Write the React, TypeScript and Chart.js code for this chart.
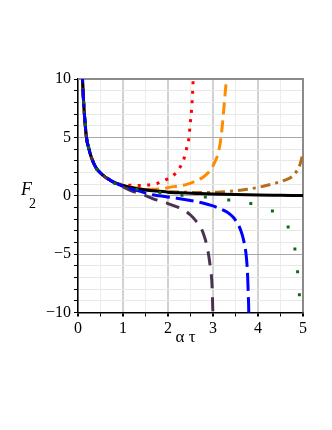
import React, { useEffect, useRef } from "react";
import { Chart, registerables } from "chart.js";

Chart.register(...registerables);

// shared steep branch near the origin (all curves coincide here)
const commonX = [0.09, 0.1, 0.125, 0.15, 0.184, 0.25, 0.3, 0.4, 0.5, 0.6, 0.7, 0.8];
const commonY = [11.2, 10.0, 8.0, 6.6, 5.1, 3.9, 3.25, 2.4, 1.95, 1.62, 1.37, 1.15];

const blackX = [0.9, 1.0, 1.2, 1.4, 1.6, 1.8, 2.0, 2.3, 2.7, 3.0, 3.5, 4.0, 4.5, 5.0];
const blackY = [1.0, 0.88, 0.68, 0.55, 0.45, 0.38, 0.31, 0.25, 0.19, 0.15, 0.1, 0.06, 0.04, 0.02];

const redX = [0.9, 1.0, 1.16, 1.36, 1.58, 1.77, 1.97, 2.15, 2.27, 2.36, 2.41, 2.46, 2.48, 2.5, 2.52, 2.535, 2.547, 2.556, 2.575];
const redY = [1.02, 0.95, 0.9, 0.88, 0.93, 1.07, 1.4, 1.85, 2.46, 3.23, 4.0, 4.8, 5.57, 6.39, 7.2, 8.0, 8.82, 9.64, 11.5];

const orangeX = [0.9, 1.0, 1.2, 1.4, 1.64, 1.9, 2.12, 2.4, 2.64, 2.8, 2.94, 3.03, 3.1, 3.16, 3.2, 3.25, 3.3, 3.33];
const orangeY = [1.0, 0.9, 0.72, 0.6, 0.55, 0.63, 0.78, 0.95, 1.3, 1.65, 2.18, 2.8, 3.46, 4.5, 5.74, 7.88, 10.15, 12];

const brownX = [0.9, 1.0, 1.2, 1.5, 1.8, 2.05, 2.5, 2.94, 3.16, 3.46, 3.76, 4.05, 4.35, 4.57, 4.76, 4.87, 4.94, 5.0];
const brownY = [1.0, 0.88, 0.7, 0.52, 0.4, 0.34, 0.29, 0.28, 0.32, 0.41, 0.56, 0.75, 1.04, 1.3, 1.65, 2.18, 2.75, 3.7];

const blueX = [0.9, 1.0, 1.2, 1.4, 1.61, 1.8, 1.98, 2.2, 2.5, 2.75, 2.98, 3.15, 3.31, 3.45, 3.55, 3.62, 3.68, 3.74, 3.77, 3.785, 3.795, 3.8];
const blueY = [0.97, 0.8, 0.56, 0.35, 0.12, 0.0, -0.1, -0.22, -0.4, -0.6, -0.85, -1.1, -1.4, -1.85, -2.4, -3.0, -3.8, -5.2, -6.9, -8.6, -10, -12];

const purpleX = [0.9, 1.0, 1.16, 1.42, 1.76, 2.0, 2.2, 2.35, 2.5, 2.62, 2.72, 2.8, 2.87, 2.94, 2.98, 2.995, 3.005];
const purpleY = [0.93, 0.75, 0.47, 0.13, -0.38, -0.67, -0.95, -1.2, -1.65, -2.15, -2.67, -3.4, -4.38, -6.1, -7.8, -9.8, -12];

const greenX = [0.125, 0.165, 0.236, 0.42, 0.82, 1.31, 1.82, 2.31, 2.83, 3.35, 3.84, 4.32, 4.67, 4.82, 4.88, 4.92];
const greenY = [8.0, 6.1, 4.12, 2.26, 1.04, 0.55, 0.26, 0.04, -0.1, -0.36, -0.67, -1.3, -2.67, -4.57, -6.51, -8.48];

const xTickLabels = ["0", "1", "2", "3", "4", "5"];
const yTickLabels = ["\u221210", "\u22125", "0", "5", "10"];

const SERIF = "'Times New Roman', 'Liberation Serif', serif";

function pts(xs: number[], ys: number[], withCommon = true) {
  const ax = withCommon ? commonX.concat(xs) : xs;
  const ay = withCommon ? commonY.concat(ys) : ys;
  return ax.map((x, i) => ({ x, y: ay[i] }));
}

const framePlugin = {
  id: "frame",
  beforeDatasetsDraw(chart: any) {
    const { ctx, chartArea: a } = chart;
    ctx.save();
    ctx.strokeStyle = "#8a8a8a";
    ctx.lineWidth = 2;
    ctx.beginPath();
    ctx.moveTo(a.left, a.top);
    ctx.lineTo(a.right, a.top);
    ctx.lineTo(a.right, a.bottom);
    ctx.stroke();
    ctx.restore();
  },
  afterDraw(chart: any) {
    const { ctx } = chart;
    ctx.save();
    ctx.fillStyle = "#000";
    ctx.textBaseline = "alphabetic";
    ctx.textAlign = "left";
    ctx.font = `italic 18px ${SERIF}`;
    ctx.fillText("F", 21, 195);
    ctx.font = `14px ${SERIF}`;
    ctx.fillText("2", 29, 208);
    ctx.textAlign = "center";
    ctx.font = `17px ${SERIF}`;
    ctx.fillText("\u03b1 \u03c4", 185.5, 342);
    ctx.restore();
  },
};

export default function App() {
  const ref = useRef<HTMLCanvasElement | null>(null);
  useEffect(() => {
    if (!ref.current) return;
    const lineBase = {
      type: "line" as const,
      showLine: true,
      pointRadius: 0,
      borderWidth: 3,
      fill: false,
      cubicInterpolationMode: "monotone" as const,
      clip: 0,
    };
    const chart = new Chart(ref.current, {
      type: "line",
      data: {
        datasets: [
          {
            label: "green",
            type: "line",
            data: pts(greenX, greenY, false),
            showLine: false,
            pointStyle: "rect",
            pointRadius: 2.1,
            pointBorderWidth: 0,
            pointBackgroundColor: "#0b6b12",
            borderColor: "#0b6b12",
            clip: 0,
          } as any,
          { ...lineBase, label: "blue", data: pts(blueX, blueY), borderColor: "#0000ff", borderDash: [18, 6] },
          { ...lineBase, label: "purple", data: pts(purpleX, purpleY), borderColor: "#4a3352", borderDash: [14, 9] },
          { ...lineBase, label: "black", data: pts(blackX, blackY), borderColor: "#000000" },
          { ...lineBase, label: "brown", data: pts(brownX, brownY), borderColor: "#b36f1c", borderDash: [10, 5, 3, 5] },
          { ...lineBase, label: "orange", data: pts(orangeX, orangeY), borderColor: "#ff8c00", borderDash: [12, 6] },
          { ...lineBase, label: "red", data: pts(redX, redY), borderColor: "#ff0000", borderWidth: 3, borderDash: [3, 6.5] },
        ],
      },
      options: {
        responsive: false,
        animation: false,
        events: [],
        layout: { padding: { left: 0, right: 29, top: 79, bottom: 77.5 } },
        plugins: { legend: { display: false }, tooltip: { enabled: false } },
        scales: {
          x: {
            type: "linear",
            min: 0,
            max: 5,
            afterFit(scale: any) {
              scale.height = 40;
            },
            ticks: {
              stepSize: 0.5,
              autoSkip: false,
              maxRotation: 0,
              padding: 3,
              color: "#000",
              font: { family: SERIF, size: 16 },
              callback: (v: any) => {
                const n = Number(v);
                return Number.isInteger(n) ? xTickLabels[n] : "";
              },
            },
            grid: {
              color: (c: any) => (c.tick && Number.isInteger(c.tick.value) ? "#d2d2d2" : "#ececec"),
              lineWidth: (c: any) => (c.tick && Number.isInteger(c.tick.value) ? 2 : 1),
              tickColor: "#000",
              tickLength: 4,
            },
            border: { color: "#000", width: 1.5 },
          },
          y: {
            type: "linear",
            min: -10,
            max: 10,
            afterFit(scale: any) {
              scale.width = 78;
            },
            ticks: {
              stepSize: 1,
              autoSkip: false,
              padding: 3,
              color: "#000",
              font: { family: SERIF, size: 16 },
              callback: (v: any) => {
                const n = Number(v);
                return n % 5 === 0 ? yTickLabels[(n + 10) / 5] : "";
              },
            },
            grid: {
              color: (c: any) => (c.tick && c.tick.value % 5 === 0 ? "#a8a8a8" : "#e8e8e8"),
              lineWidth: 1,
              tickColor: "#000",
              tickLength: 4,
            },
            border: { color: "#000", width: 1.5 },
          },
        },
      },
      plugins: [framePlugin],
    } as any);
    return () => chart.destroy();
  }, []);
  return (
    <div style={{ position: "fixed", left: 0, top: 0, width: 332, height: 430, background: "#fff" }}>
      <canvas ref={ref} width={332} height={430} style={{ width: 332, height: 430, display: "block" }} />
    </div>
  );
}
